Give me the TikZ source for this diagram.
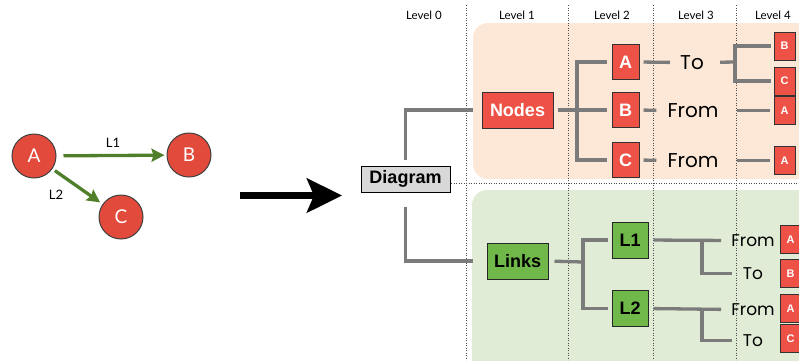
\documentclass[tikz,border=0pt]{standalone}
\usepackage{fontspec}
\setmainfont{Liberation Sans}
\newfontfamily\geofont{Poppins}
\newfontfamily\humfont{Lato}
\usetikzlibrary{arrows.meta}

\definecolor{regionorange}{HTML}{FDE7D6}
\definecolor{regiongreen}{HTML}{E0ECD6}
\definecolor{boxred}{HTML}{EE5246}
\definecolor{circred}{HTML}{E24A3C}
\definecolor{boxgreen}{HTML}{71B84A}
\definecolor{arrowgreen}{HTML}{4F7F2A}
\definecolor{linegray}{HTML}{7B7B7B}
\definecolor{diagramgray}{HTML}{D8D8D8}

\tikzset{
  guide/.style={draw=black!70, line width=0.7pt, dash pattern=on 0.9pt off 1.6pt},
  region/.style={rounded corners=15pt},
  conn/.style={draw=linegray, line width=3.3pt},
  redbox/.style={draw=black!80, line width=1pt, fill=boxred, text=white,
    font=\bfseries\fontsize{18}{18}\selectfont, inner sep=0pt},
  greenbox/.style={draw=black!85, line width=1pt, fill=boxgreen, text=black,
    font=\bfseries\fontsize{18}{18}\selectfont, inner sep=0pt},
  leafbox/.style={redbox, minimum width=21pt, minimum height=28pt,
    font=\bfseries\fontsize{11}{11}\selectfont},
  midbox/.style={redbox, minimum width=27pt, minimum height=35pt},
  linkbox/.style={greenbox, minimum width=36pt, minimum height=36pt},
  word/.style={inner sep=0pt, font=\geofont\fontsize{20}{20}\selectfont},
  smallword/.style={inner sep=0pt, font=\geofont\fontsize{17}{17}\selectfont},
  levellabel/.style={inner sep=0pt, font=\humfont\fontsize{11.5}{11.5}\selectfont},
  graphnode/.style={circle, draw=black!75, line width=1pt, fill=circred, text=white,
    minimum size=44pt, inner sep=0pt, font=\humfont\fontsize{19}{19}\selectfont},
  edge/.style={draw=arrowgreen, line width=3.3pt,
    -{Stealth[length=13pt, width=13pt, inset=2pt]}},
  edgelabel/.style={inner sep=0pt, font=\humfont\fontsize{13}{13}\selectfont},
}

\begin{document}
\begin{tikzpicture}[x=1pt, y=-1pt]
\useasboundingbox (0,0) rectangle (799,360);

% background bands for the two branches
\fill[regionorange, region] (473,23) rectangle (830,179);
\fill[regiongreen, region] (472,190) rectangle (830,380);

% level guides
\foreach \gx in {466,568,653,736} \draw[guide] (\gx,5) -- (\gx,360);
\draw[guide] (451,183) -- (799,183);

\node[levellabel] (lv0) at (424,15) {Level 0};
\node[levellabel] (lv1) at (517,15) {Level 1};
\node[levellabel] (lv2) at (612,15) {Level 2};
\node[levellabel] (lv3) at (696,15) {Level 3};
\node[levellabel] (lv4) at (773,15) {Level 4};

% the small graph
\node[graphnode] (ga) at (34,156) {A};
\node[graphnode] (gb) at (189,155) {B};
\node[graphnode] (gc) at (121,217) {C};
\draw[edge, shorten <=7pt, shorten >=2pt] (ga) -- (gb);
\draw[edge, shorten <=3pt, shorten >=3pt] (ga) -- (gc);
\node[edgelabel] (lab1) at (113,143) {L1};
\node[edgelabel] (lab2) at (56,195) {L2};

% transformation arrow
\coordinate (arrstart) at (240,195.5);
\coordinate (arrend) at (342,195.5);
\draw[line width=7pt, -{Stealth[length=35pt, width=34pt, inset=7pt]}] (arrstart) -- (arrend);

% root
\node[draw=black, line width=1pt, fill=diagramgray, minimum width=89pt, minimum height=26pt,
  inner sep=0pt, font=\bfseries\fontsize{18}{18}\selectfont] (diagram) at (405.5,179) {Diagram};

% level 1
\node[redbox, minimum width=71pt, minimum height=36pt] (nodes) at (517.5,110) {Nodes};
\node[greenbox, minimum width=61pt, minimum height=36pt] (links) at (517.5,261) {Links};

\draw[conn, shorten <=6pt, shorten >=9pt] (diagram.north) |- (nodes.west);
\draw[conn, shorten <=14pt, shorten >=14pt] (diagram.south) |- (links.west);

% nodes branch
\node[midbox] (na) at (625.5,62) {A};
\node[midbox] (nb) at (625.5,110) {B};
\node[midbox] (nc) at (625.5,160) {C};
\coordinate (nbar) at (577,110);
\draw[conn, shorten <=4pt] (nodes.east) -- (nbar);
\draw[conn, shorten >=5pt] (nbar) |- (na.west);
\draw[conn, shorten >=5pt] (nbar) -- (nb.west);
\draw[conn, shorten >=5pt] (nbar) |- (nc.west);

\node[word] (ato) at (692,62.5) {To};
\node[word] (bfrom) at (693,110.5) {From};
\node[word] (cfrom) at (693,160.5) {From};
\draw[conn, shorten <=4pt, shorten >=10pt] (na.east) -- (ato.west);
\draw[conn, shorten <=4pt, shorten >=11pt] (nb.east) -- (bfrom.west);
\draw[conn, shorten <=4pt, shorten >=11pt] (nc.east) -- (cfrom.west);

\node[leafbox] (ab) at (784.5,46) {B};
\node[leafbox] (ac) at (784.5,81) {C};
\node[leafbox] (ba) at (784.5,110.5) {A};
\node[leafbox] (ca) at (784.5,160.5) {A};
\coordinate (tobar) at (735,62);
\draw[conn, shorten <=16pt] (ato.east) -- (tobar);
\draw[conn, shorten >=3pt] (tobar) |- (ab.west);
\draw[conn, shorten >=3pt] (tobar) |- (ac.west);
\draw[conn, shorten <=18pt, shorten >=4pt] (bfrom.east) -- (ba.west);
\draw[conn, shorten <=18pt, shorten >=4pt] (cfrom.east) -- (ca.west);

% links branch
\node[linkbox] (l1) at (630,240) {L1};
\node[linkbox] (l2) at (630,308.5) {L2};
\coordinate (lbar) at (583,262);
\draw[conn, shorten <=6pt] (links.east) -- (lbar);
\draw[conn, shorten >=4pt] (lbar) |- (l1.west);
\draw[conn, shorten >=4pt] (lbar) |- (l2.west);

\node[smallword] (l1from) at (753,240.5) {From};
\node[smallword] (l1to) at (753,273.5) {To};
\node[smallword] (l2from) at (753,309.5) {From};
\node[smallword] (l2to) at (753,340.5) {To};
\coordinate (l1bar) at (702,240);
\coordinate (l2bar) at (702,309);
\draw[conn, shorten <=5pt, shorten >=10pt] (l1.east) -- (l1from.west);
\draw[conn, shorten >=11pt] (l1bar) |- (l1to.west);
\draw[conn, shorten <=5pt, shorten >=10pt] (l2.east) -- (l2from.west);
\draw[conn, shorten >=11pt] (l2bar) |- (l2to.west);

\node[leafbox] (l1a) at (790.5,239.5) {A};
\node[leafbox] (l1b) at (790.5,273.5) {B};
\node[leafbox] (l2a) at (790.5,308.5) {A};
\node[leafbox] (l2c) at (790.5,338.5) {C};
\end{tikzpicture}
\end{document}
